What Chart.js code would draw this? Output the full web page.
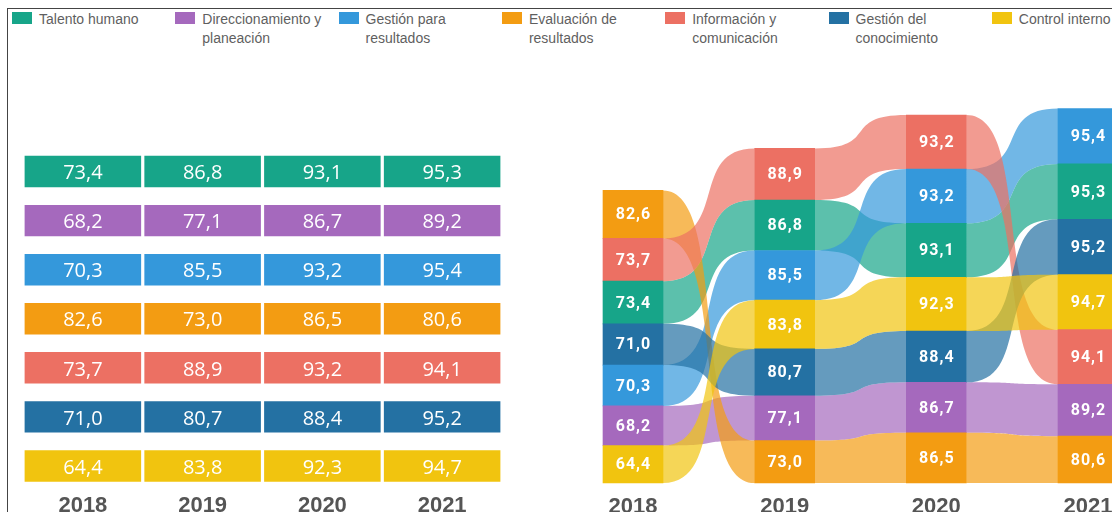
<!DOCTYPE html>
<html>
<head>
<meta charset="utf-8">
<script src="https://cdn.jsdelivr.net/npm/chart.js@4.4.0/dist/chart.umd.min.js"></script>
<style>
html, body { margin: 0; padding: 0; width: 1112px; height: 512px; overflow: hidden; background: #fff; }
#frame { position: absolute; left: 7px; top: 8px; width: 1110px; height: 510px; border-left: 1px solid #444; border-top: 1px solid #444; }
.sw { position: absolute; top: 12px; width: 20px; height: 12px; }
.lt { position: absolute; top: 10px; width: 132px; font: 14px/19px "Liberation Sans", Arial, sans-serif; color: #5f5f5f; }
#left { position: absolute; left: 0; top: 60px; }
#right { position: absolute; left: 560px; top: 60px; }
</style>
</head>
<body>
<div id="frame"></div>
<div id="legend"></div>
<canvas id="left" width="540" height="452"></canvas>
<canvas id="right" width="560" height="452"></canvas>
<script>
var years = ['2018', '2019', '2020', '2021'];
var categories = ['Talento humano', 'Direccionamiento y planeación', 'Gestión para resultados',
    'Evaluación de resultados', 'Información y comunicación', 'Gestión del conocimiento', 'Control interno'];

var talentoHumano    = [73.4, 86.8, 93.1, 95.3];
var direccionamiento = [68.2, 77.1, 86.7, 89.2];
var gestionResult    = [70.3, 85.5, 93.2, 95.4];
var evaluacion       = [82.6, 73.0, 86.5, 80.6];
var informacion      = [73.7, 88.9, 93.2, 94.1];
var conocimiento     = [71.0, 80.7, 88.4, 95.2];
var controlInterno   = [64.4, 83.8, 92.3, 94.7];

var series = [talentoHumano, direccionamiento, gestionResult, evaluacion, informacion, conocimiento, controlInterno];
var colors = ['#17a589', '#a569bd', '#3498db', '#f39c12', '#ec7063', '#2471a3', '#f1c40f'];

function fmt(v) { return v.toFixed(1).replace('.', ','); }
function fade(hex, a) {
    var n = parseInt(hex.slice(1), 16);
    return 'rgba(' + (n >> 16) + ',' + ((n >> 8) & 255) + ',' + (n & 255) + ',' + a + ')';
}

// legend
var leg = document.getElementById('legend');
categories.forEach(function (name, i) {
    var x = 12 + i * 163.3;
    var sw = document.createElement('div');
    sw.className = 'sw'; sw.style.left = x + 'px'; sw.style.background = colors[i];
    var t = document.createElement('div');
    t.className = 'lt'; t.style.left = (x + 27) + 'px'; t.textContent = name;
    leg.appendChild(sw); leg.appendChild(t);
});

// ---- left: table of values ----
var leftSets = series.map(function (s, i) {
    return {
        label: categories[i],
        data: years.map(function () { return [i + 0.18, i + 0.82]; }),
        values: s,
        backgroundColor: colors[i],
        borderWidth: 0,
        grouped: false,
        barPercentage: 0.973,
        categoryPercentage: 1
    };
});

var cellText = {
    id: 'cellText',
    afterDatasetsDraw: function (chart) {
        var ctx = chart.ctx;
        ctx.save();
        ctx.fillStyle = '#fff';
        ctx.font = '20px "Open Sans"';
        ctx.textAlign = 'center';
        ctx.textBaseline = 'middle';
        chart.data.datasets.forEach(function (ds, i) {
            chart.getDatasetMeta(i).data.forEach(function (el, j) {
                ctx.fillText(fmt(ds.values[j]), el.x, (el.y + el.base) / 2 + 2);
            });
        });
        ctx.restore();
    }
};

new Chart(document.getElementById('left'), {
    type: 'bar',
    data: { labels: years, datasets: leftSets },
    options: {
        responsive: false,
        animation: false,
        layout: { padding: { left: 23, right: 38, top: 87, bottom: 0 } },
        plugins: { legend: { display: false }, tooltip: { enabled: false } },
        scales: {
            x: {
                grid: { display: false },
                border: { display: false },
                ticks: { color: '#555', padding: -6, font: { family: 'Liberation Sans', size: 22, weight: 'bold' } },
                afterFit: function (s) { s.height = 21.5; }
            },
            y: { display: false, reverse: true, min: 0, max: 7 }
        }
    },
    plugins: [cellText]
});

// ---- right: ranked flow chart ----
// order[j][b] = category at stack position b (bottom first) in year j
var order = years.map(function (_, j) {
    var idx = series.map(function (s, i) { return i; });
    idx.sort(function (a, b) { return (series[a][j] - series[b][j]) || (a - b); });
    return idx;
});
var posOf = series.map(function (s, c) {
    return years.map(function (_, j) { return order[j].indexOf(c); });
});

var rightSets = series.map(function (s, b) {
    return {
        data: years.map(function (_, j) { return series[order[j][b]][j]; }),
        backgroundColor: years.map(function (_, j) { return colors[order[j][b]]; }),
        borderWidth: 0,
        barThickness: 60,
        clip: false
    };
});

var flows = {
    id: 'flows',
    beforeDatasetsDraw: function (chart) {
        var ctx = chart.ctx, k = 0.72;
        ctx.save();
        series.forEach(function (s, c) {
            ctx.fillStyle = fade(colors[c], 0.7);
            for (var j = 0; j < years.length - 1; j++) {
                var a = chart.getDatasetMeta(posOf[c][j]).data[j];
                var b = chart.getDatasetMeta(posOf[c][j + 1]).data[j + 1];
                var x0 = a.x + a.width / 2, x1 = b.x - b.width / 2, dx = x1 - x0;
                ctx.beginPath();
                ctx.moveTo(x0, a.y);
                ctx.bezierCurveTo(x0 + k * dx, a.y, x1 - k * dx, b.y, x1, b.y);
                ctx.lineTo(x1, b.base);
                ctx.bezierCurveTo(x1 - k * dx, b.base, x0 + k * dx, a.base, x0, a.base);
                ctx.closePath();
                ctx.fill();
            }
        });
        ctx.restore();
    },
    afterDatasetsDraw: function (chart) {
        var ctx = chart.ctx;
        ctx.save();
        ctx.fillStyle = '#fff';
        ctx.font = 'bold 16px Roboto';
        ctx.letterSpacing = '1px';
        ctx.textAlign = 'center';
        ctx.textBaseline = 'middle';
        chart.data.datasets.forEach(function (ds, b) {
            chart.getDatasetMeta(b).data.forEach(function (el, j) {
                ctx.fillText(fmt(ds.data[j]), el.x + 0.5, (el.y + el.base) / 2 + 1);
            });
        });
        ctx.restore();
    }
};

new Chart(document.getElementById('right'), {
    type: 'bar',
    data: { labels: years, datasets: rightSets },
    options: {
        responsive: false,
        animation: false,
        layout: { padding: { left: 73, right: 32, top: 0, bottom: 0 } },
        plugins: { legend: { display: false }, tooltip: { enabled: false } },
        scales: {
            x: {
                stacked: true,
                offset: false,
                grid: { display: false },
                border: { display: false },
                ticks: { color: '#555', padding: 3, font: { family: 'Liberation Sans', size: 22, weight: 'bold' } },
                afterFit: function (s) { s.height = 29; }
            },
            y: { display: false, stacked: true, min: 0, max: 728 }
        }
    },
    plugins: [flows]
});
</script>
</body>
</html>
